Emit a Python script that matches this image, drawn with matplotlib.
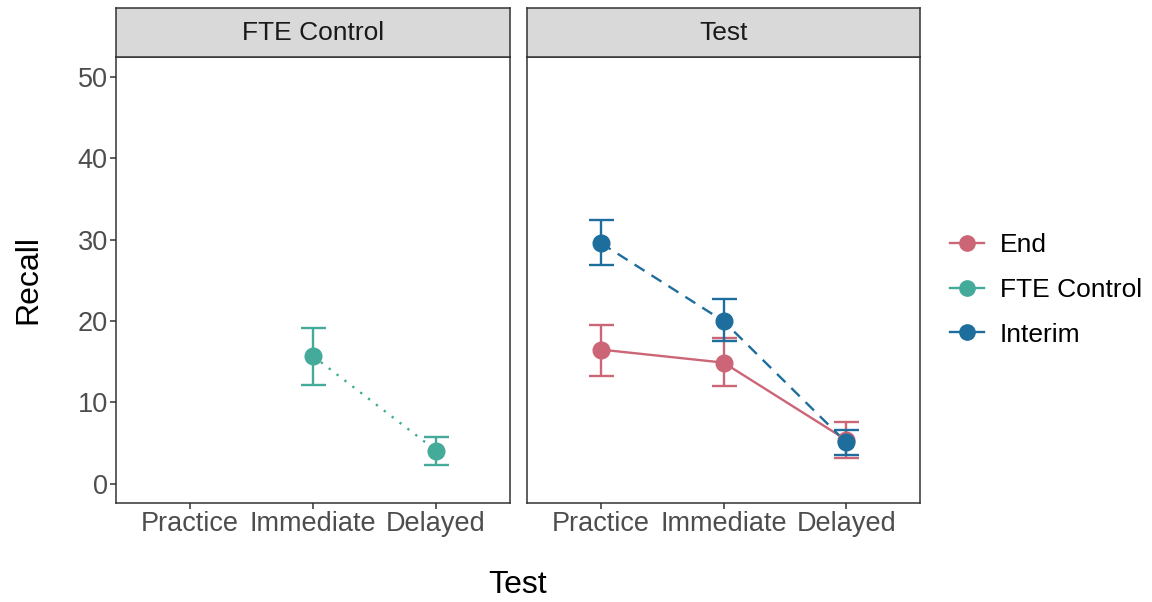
import numpy as np
import matplotlib
matplotlib.use("Agg")
import matplotlib.pyplot as plt
from matplotlib.lines import Line2D

plt.rcParams['font.family'] = ['Liberation Sans', 'DejaVu Sans']

tests = ['Practice', 'Immediate', 'Delayed']
panels = ['FTE Control', 'Test']
groups = ['End', 'FTE Control', 'Interim']
colors = {'End': '#CC6677', 'FTE Control': '#44AA99', 'Interim': '#1D6E9C'}
styles = {'End': '-', 'FTE Control': (0, (1, 3.2)), 'Interim': (0, (5, 3.5))}

# FTE Control panel (only Immediate and Delayed)
fte_x = [1, 2]
fte_mean = [15.7, 4.1]
fte_lo = [12.2, 2.3]
fte_hi = [19.2, 5.8]

# Test panel
end_mean = [16.5, 14.9, 5.4]
end_lo = [13.3, 12.0, 3.2]
end_hi = [19.5, 17.9, 7.6]
interim_mean = [29.6, 20.0, 5.1]
interim_lo = [26.9, 17.5, 3.6]
interim_hi = [32.4, 22.7, 6.6]

W, H = 1152, 602
fig = plt.figure(figsize=(W / 100, H / 100), dpi=100)


def px_axes(x0, y0, x1, y1):
    return fig.add_axes([x0 / W, 1 - y1 / H, (x1 - x0) / W, (y1 - y0) / H])


def draw(ax, x, mean, lo, hi, name):
    c = colors[name]
    ax.plot(x, mean, color=c, linestyle=styles[name], lw=1.7, zorder=2)
    ax.errorbar(x, mean, yerr=[np.array(mean) - np.array(lo), np.array(hi) - np.array(mean)],
                fmt='none', ecolor=c, elinewidth=1.7, capsize=9, capthick=1.7, zorder=3)
    ax.plot(x, mean, 'o', color=c, ms=12, zorder=4)


ax1 = px_axes(116, 57, 510, 503)
ax2 = px_axes(527, 57, 920, 503)

draw(ax1, fte_x, fte_mean, fte_lo, fte_hi, 'FTE Control')
draw(ax2, [0, 1, 2], end_mean, end_lo, end_hi, 'End')
draw(ax2, [0, 1, 2], interim_mean, interim_lo, interim_hi, 'Interim')

for ax, title in zip([ax1, ax2], panels):
    ax.set_xlim(-0.6, 2.6)
    ax.set_ylim(-2.35, 52.45)
    ax.set_xticks(range(3))
    ax.set_xticklabels(tests)
    ax.set_yticks([0, 10, 20, 30, 40, 50])
    ax.tick_params(colors='#333333', labelsize=19.5, length=4, width=1.1, labelcolor='#4D4D4D', pad=2)
    for s in ax.spines.values():
        s.set_color('#333333')
        s.set_linewidth(1.1)
    # strip
    strip = ax.inset_axes([0, 1, 1, 49 / 446])
    strip.set_xticks([])
    strip.set_yticks([])
    strip.set_facecolor('#D9D9D9')
    for s in strip.spines.values():
        s.set_color('#333333')
        s.set_linewidth(1.1)
    strip.text(0.5, 0.5, title, ha='center', va='center', fontsize=19, color='#1A1A1A',
               transform=strip.transAxes)

ax2.set_yticklabels([])
ax2.tick_params(axis='y', length=0)

fig.text(28 / W, 1 - 280 / H, 'Recall', ha='center', va='center', rotation=90, fontsize=23)
fig.text(518 / W, 1 - 585 / H, 'Test', ha='center', va='center', fontsize=23)

handles = [Line2D([0], [0], color=colors[g], marker='o', ms=11, lw=1.7) for g in groups]
fig.legend(handles, groups, loc='center left', bbox_to_anchor=(926 / W, 1 - 290 / H),
           frameon=False, fontsize=19, handlelength=1.3, handletextpad=0.6, labelspacing=0.78)

fig.savefig('out.png', dpi=100)
